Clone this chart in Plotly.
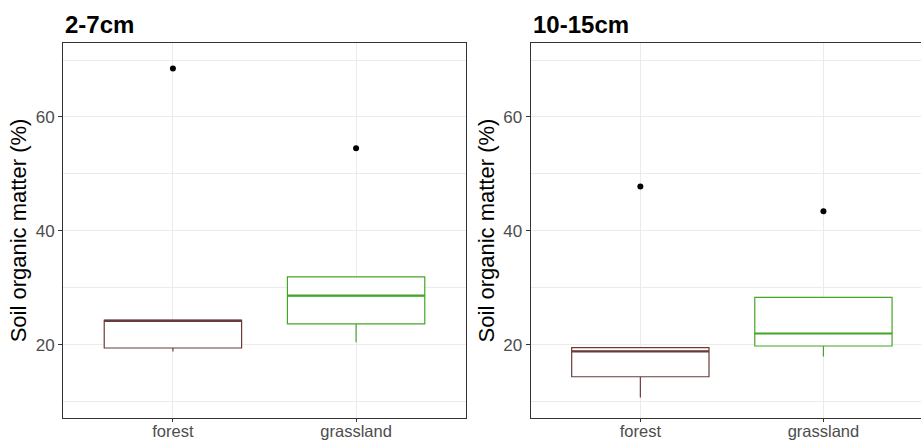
import plotly.graph_objects as go

# Soil organic matter summaries per land use and depth
categories = ["forest", "grassland"]
depths = ["2-7cm", "10-15cm"]

# 2-7cm
q1_top = [19.4, 23.65]
median_top = [24.2, 28.6]
q3_top = [24.25, 31.9]
low_top = [18.8, 20.4]
high_top = [24.25, 31.9]
out_top = [68.5, 54.5]

# 10-15cm
q1_deep = [14.35, 19.75]
median_deep = [18.8, 21.95]
q3_deep = [19.45, 28.3]
low_deep = [10.7, 17.9]
high_deep = [19.45, 28.3]
out_deep = [47.8, 43.45]

colors = ["#6B3B3B", "#45A526"]
BOX_W = 0.75
W, H = 921, 444

fig = go.Figure()

panels = [
    (q1_top, median_top, q3_top, low_top, high_top, out_top, "x", "y"),
    (q1_deep, median_deep, q3_deep, low_deep, high_deep, out_deep, "x2", "y2"),
]

for q1, med, q3, lo, hi, outs, xa, ya in panels:
    for i, cat in enumerate(categories):
        fig.add_trace(go.Box(
            x=[i], q1=[q1[i]], median=[med[i]], q3=[q3[i]],
            lowerfence=[lo[i]], upperfence=[hi[i]],
            width=BOX_W, fillcolor="white",
            line=dict(color=colors[i], width=1.2),
            whiskerwidth=0, boxpoints=False,
            xaxis=xa, yaxis=ya, showlegend=False, hoverinfo="skip",
        ))
        # thicker median line
        fig.add_trace(go.Scatter(
            x=[i - BOX_W / 2, i + BOX_W / 2], y=[med[i], med[i]],
            mode="lines", line=dict(color=colors[i], width=2.2),
            xaxis=xa, yaxis=ya, showlegend=False, hoverinfo="skip",
        ))
    fig.add_trace(go.Scatter(
        x=list(range(len(categories))), y=outs, mode="markers",
        marker=dict(color="black", size=6),
        xaxis=xa, yaxis=ya, showlegend=False, hoverinfo="skip",
    ))

ML, MR, MT, MB = 63, 0, 43, 26
pw = W - ML - MR


def px(v):
    return (v - ML) / pw


grid = "#EBEBEB"
tickfont = dict(family="Liberation Sans, Arial, sans-serif", size=17, color="#4D4D4D")
xtickfont = dict(family="Liberation Sans, Arial, sans-serif", size=16.5, color="#4D4D4D")
titlefont = dict(family="Liberation Sans, Arial, sans-serif", size=22, color="black")
yr = [7.1, 73.0]

common_x = dict(
    tickmode="array", tickvals=[0, 1], ticktext=categories,
    showgrid=True, gridcolor=grid, gridwidth=1,
    ticks="outside", ticklen=3, tickcolor="#333333",
    tickfont=xtickfont, zeroline=False, automargin=False,
    ticklabelstandoff=-5,
    showline=True, linecolor="#333333", linewidth=1, mirror=True,
)
common_y = dict(
    range=yr, tickmode="array", tickvals=[20, 40, 60],
    showgrid=True, gridcolor=grid, gridwidth=1.3,
    minor=dict(tickvals=[10, 30, 50, 70], showgrid=True, gridcolor=grid, gridwidth=0.8),
    ticks="outside", ticklen=4, tickcolor="#333333",
    tickfont=tickfont, zeroline=False, automargin=False,
    showline=True, linecolor="#333333", linewidth=1,
    title=dict(text="Soil organic matter (%)", font=titlefont, standoff=2),
)

fig.update_layout(
    width=W, height=H,
    margin=dict(l=ML, r=MR, t=MT, b=MB),
    paper_bgcolor="white", plot_bgcolor="white",
    xaxis=dict(domain=[0, px(466)], range=[-0.6, 1.6], anchor="y", **common_x),
    yaxis=dict(domain=[0, 1], anchor="x", mirror=True, **common_y),
    xaxis2=dict(domain=[px(530.5), 1.0], range=[-0.6, 1.533], anchor="y2", **common_x),
    yaxis2=dict(domain=[0, 1], anchor="x2", mirror=False, **common_y),
)

# panel titles
for xd, text in [(0, depths[0]), (px(530.5), depths[1])]:
    fig.add_annotation(
        x=xd, y=1, xref="paper", yref="paper", xanchor="left", yanchor="bottom",
        text="<b>" + text + "</b>", showarrow=False, yshift=3, xshift=0,
        font=dict(family="Liberation Sans, Arial, sans-serif", size=24, color="black"),
    )

fig.write_html("out.html")
